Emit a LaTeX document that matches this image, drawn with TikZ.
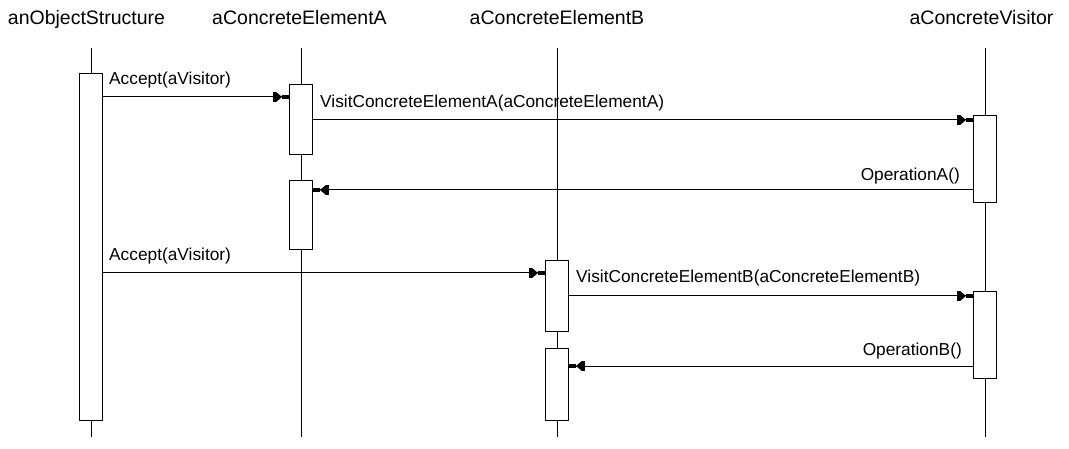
\documentclass[tikz,border=0pt]{standalone}
\usepackage{fontspec}
\setmainfont{Liberation Sans}
\usetikzlibrary{positioning,arrows.meta,calc}

\begin{document}
\begin{tikzpicture}[x=1pt,y=-1pt,
    head/.style={font=\fontsize{19.5}{22}\selectfont,inner sep=0pt,anchor=base},
    act/.style={draw,fill=white,line width=1pt,minimum width=23pt,inner sep=0pt,anchor=north},
    msg/.style={line width=1pt,-{Rectangle[length=3pt,width=10pt]Triangle[length=6pt,width=10pt]Rectangle[length=7pt,width=4pt]}},
    lbl/.style={font=\fontsize{17.3}{20}\selectfont,inner sep=0pt,anchor=base west},
    life/.style={line width=1pt}]
      \useasboundingbox (0,0) rectangle (1069,449);
      % lifeline heads
      \node[head] (os) at (86.5,25) {anObjectStructure};
      \node[head] (cea) at (299.5,25) {aConcreteElementA};
      \node[head] (ceb) at (557,25) {aConcreteElementB};
      \node[head] (cv) at (981.5,25) {aConcreteVisitor};
      \coordinate (osend) at (91,437);
      \coordinate (ceaend) at (301,437);
      \coordinate (cebend) at (557,437);
      \coordinate (cvend) at (985,437);
      \draw[life] (91,48) -- (osend);
      \draw[life] (301,48) -- (ceaend);
      \draw[life] (557,48) -- (cebend);
      \draw[life] (985,48) -- (cvend);
      % activations
      \node[act,minimum height=347pt] (os1) at (91,73) {};
      \node[act,minimum height=70pt] (ea1) at (301,84) {};
      \node[act,minimum height=69pt] (ea2) at (301,180) {};
      \node[act,minimum height=87pt] (v1) at (985,115) {};
      \node[act,minimum height=87pt] (v2) at (985,291) {};
      \node[act,minimum height=71pt] (eb1) at (557,260) {};
      \node[act,minimum height=72pt] (eb2) at (557,348) {};
      % messages
      \draw[msg] (os1.east |- 0,97) -- (ea1.west |- 0,97);
      \node[lbl] at (109,85) {Accept(aVisitor)};
      \draw[msg] (ea1.east |- 0,120) -- (v1.west |- 0,120);
      \node[lbl] at (320,108) {VisitConcreteElementA(aConcreteElementA)};
      \draw[msg] (v1.west |- 0,190) -- (ea2.east |- 0,190);
      \node[lbl,anchor=base east] at (960,181) {OperationA()};
      \draw[msg] (os1.east |- 0,273) -- (eb1.west |- 0,273);
      \node[lbl] at (109,261) {Accept(aVisitor)};
      \draw[msg] (eb1.east |- 0,296) -- (v2.west |- 0,296);
      \node[lbl] at (576,283) {VisitConcreteElementB(aConcreteElementB)};
      \draw[msg] (v2.west |- 0,366) -- (eb2.east |- 0,366);
      \node[lbl,anchor=base east] at (962,355) {OperationB()};
    \end{tikzpicture}
\end{document}
